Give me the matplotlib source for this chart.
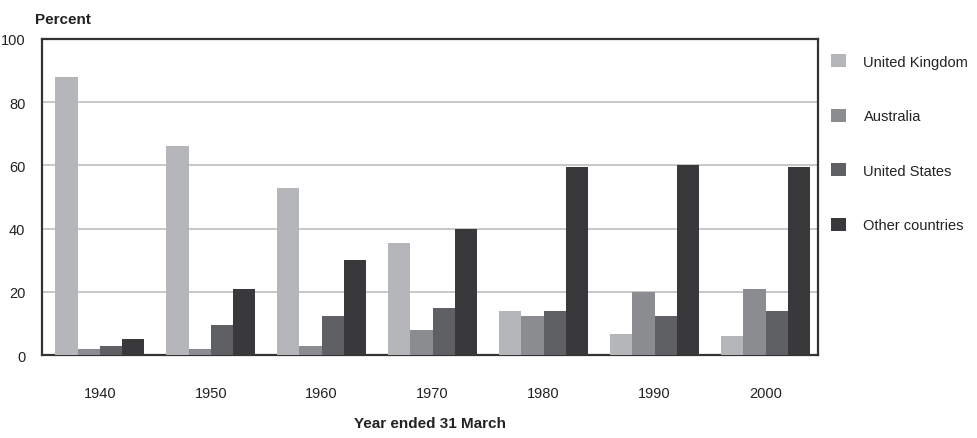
import numpy as np
import matplotlib
matplotlib.use("Agg")
import matplotlib.pyplot as plt
from matplotlib.patches import Patch

plt.rcParams['font.family'] = ['Liberation Sans Narrow', 'Liberation Sans', 'DejaVu Sans']

# ---------------- Data ----------------
years = ['1940', '1950', '1960', '1970', '1980', '1990', '2000']
series_names = ['United Kingdom', 'Australia', 'United States', 'Other countries']
uk = [88, 66, 53, 35.5, 14, 6.5, 6]
australia = [2, 2, 3, 8, 12.5, 20, 21]
united_states = [3, 9.5, 12.5, 15, 14, 12.5, 14]
other = [5, 21, 30, 40, 59.5, 60, 59.5]
colours = ['#b5b6ba', '#8b8c8f', '#5f6063', '#39393b']

# ---------------- Plot ----------------
fig = plt.figure(figsize=(9.77, 4.39), dpi=100)
ax = fig.add_axes([0.043, 0.189, 0.794, 0.72])

x = np.arange(len(years))
bar_w = 0.2
all_series = [uk, australia, united_states, other]
for i, vals in enumerate(all_series):
    ax.bar(x + (i - 1.5) * bar_w, vals, width=bar_w, color=colours[i], zorder=3,
           label=series_names[i])

ax.set_xlim(-0.52, 6.47)
ax.set_ylim(0, 100)
ax.set_yticks([0, 20, 40, 60, 80, 100])
ax.set_xticks(x)
ax.set_xticklabels(years)
ax.tick_params(axis='both', length=0, labelsize=10.5, colors='#222222')
ax.tick_params(axis='x', pad=22)
ax.tick_params(axis='y', pad=12)
ax.yaxis.grid(True, color='#c8c8c8', lw=1.4, zorder=0)
for sp in ax.spines.values():
    sp.set_color('#333333')
    sp.set_linewidth(1.6)

ax.set_xlabel('Year ended 31 March', fontsize=11, fontweight='bold', color='#222222', labelpad=12)
fig.text(0.036, 0.955, 'Percent', fontsize=11, fontweight='bold', color='#222222', ha='left', va='center')

# Legend drawn at right side
handles = [Patch(facecolor=c, edgecolor='none') for c in colours]
leg = fig.legend(handles, series_names, loc='upper left', bbox_to_anchor=(0.845, 0.888),
                 frameon=False, fontsize=10.5, labelspacing=2.75, handlelength=1.0,
                 handleheight=1.0, handletextpad=1.2, borderaxespad=0)
for t in leg.get_texts():
    t.set_color('#222222')

fig.savefig('out.png', dpi=100)
